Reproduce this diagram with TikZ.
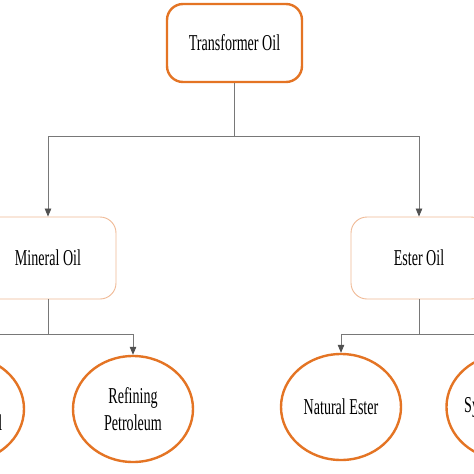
\documentclass[tikz,border=0pt]{standalone}
\usepackage{fontspec}
\setmainfont{Liberation Serif}
\newfontfamily\narrowserif[FakeStretch=0.62]{Liberation Serif}
\usetikzlibrary{arrows.meta,shapes.geometric}
\definecolor{orangeA}{RGB}{228,116,36}
\definecolor{orangeL}{RGB}{240,186,150}
\definecolor{lineG}{RGB}{120,120,120}
\definecolor{tipG}{RGB}{80,80,80}
\tikzset{
  txt/.style={font=\narrowserif\fontsize{22.7}{27}\selectfont, text=black, align=center},
  topbox/.style={txt, draw=orangeA, line width=2.4pt, rounded corners=16pt, minimum width=135pt, minimum height=78pt, fill=white},
  midbox/.style={txt, draw=orangeL, line width=0.9pt, rounded corners=16pt, minimum width=136pt, minimum height=82pt, fill=white},
  leaf/.style={txt, ellipse, draw=orangeA, line width=2.4pt, minimum width=120pt, minimum height=106pt, inner sep=0pt, fill=white},
  conn/.style={draw=lineG, line width=0.8pt},
  arr/.style={conn, -{Triangle[length=8pt,width=6.5pt,fill=tipG,color=tipG]}}
}
\begin{document}
\begin{tikzpicture}[x=1pt,y=-1pt]
\useasboundingbox (0,0) rectangle (474,474);
\fill[white] (0,0) rectangle (474,474);
\clip (0,0) rectangle (474,474);
\node[topbox] (top) at (234.5,43) {Transformer Oil};
\node[midbox] (mineral) at (48,258) {Mineral Oil};
\node[midbox] (ester) at (419,258) {Ester Oil};
\node[leaf] (crude) at (-36,409) {Naphthenic\\Paraffinic Oil};
\node[leaf] (refining) at (133,409) {Refining\\Petroleum};
\node[leaf] (natural) at (341,407) {Natural Ester};
\node[leaf] (synthetic) at (507,407) {Synthetic Ester};
\coordinate (j1) at (234.5,136);
\coordinate (j2) at (48,334);
\coordinate (j3) at (419,334);
\draw[conn] (top.south) -- (j1);
\draw[arr] (j1) -| (mineral.north);
\draw[arr] (j1) -| (ester.north);
\draw[conn] (mineral.south) -- (j2);
\draw[arr] (j2) -| (crude.north);
\draw[arr] (j2) -| (refining.north);
\draw[conn] (ester.south) -- (j3);
\draw[arr] (j3) -| (natural.north);
\draw[arr] (j3) -| (synthetic.north);
\end{tikzpicture}
\end{document}
